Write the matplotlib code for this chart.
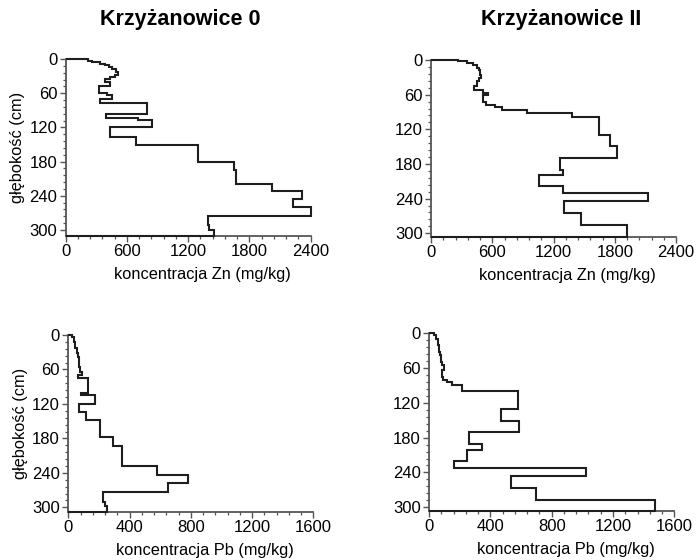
import matplotlib
matplotlib.use("Agg")
import matplotlib.pyplot as plt
import numpy as np
from matplotlib.ticker import MultipleLocator

plt.rcParams['font.family'] = ['Liberation Sans', 'DejaVu Sans']

# ---- data: layer top depths (cm), bottom depth, concentrations (mg/kg) ----
zn0_tops = [0, 3, 5.5, 8.5, 11, 14, 18, 22, 28, 32, 35, 40, 47, 59, 63, 71, 76.6,
            96.5, 104, 107, 120, 136, 151, 180, 195, 220, 231, 245.6, 260, 275.4, 291, 300]
zn0_bottom = 310
zn0_vals = [225, 258, 340, 390, 430, 460, 490, 514, 488, 439, 383, 440, 324, 406, 455, 340, 795,
            401, 707, 845, 437, 690, 1300, 1650, 1665, 2022, 2318, 2229, 2400, 1391, 1404, 1453]

zn2_tops = [0, 2, 4.6, 8.7, 13, 17, 26, 32, 35.8, 45, 52, 56.5, 60.6, 72, 78, 82, 86.5,
            91.2, 99.2, 130, 149, 170, 190, 199, 219, 229.6, 245, 265.4, 285.6]
zn2_bottom = 306
zn2_vals = [268, 349, 415, 454, 470, 480, 490, 473, 454, 421, 513, 555, 506, 540, 627, 692, 937,
            1378, 1649, 1753, 1819, 1264, 1290, 1061, 1290, 2129, 1303, 1469, 1923]

pb0_tops = [0, 3, 12, 23, 32, 38, 46, 55, 64, 70, 75.4, 101.5, 104.4, 120, 133.5, 148,
            178, 194, 228, 243.7, 258, 272.7, 290, 298]
pb0_bottom = 307.5
pb0_vals = [25, 38, 47, 56, 65, 70, 68, 78, 92, 61, 131, 83, 172, 70, 113, 207,
            294, 349, 577, 780, 650, 229, 237, 255]

pb2_tops = [0, 3, 9, 20, 32, 38, 49, 55, 64, 75, 81, 84, 89, 99, 130.5, 150.5,
            170.5, 191, 201, 221, 232, 246, 266, 287]
pb2_bottom = 306
pb2_vals = [32, 48, 58, 66, 74, 80, 88, 95, 88, 93, 115, 148, 218, 583, 468, 590,
            258, 347, 250, 164, 1025, 535, 695, 1476]

titles = ["Krzyżanowice 0", "Krzyżanowice II"]
ylabel = "głębokość (cm)"
xlabel_zn = "koncentracja Zn (mg/kg)"
xlabel_pb = "koncentracja Pb (mg/kg)"
zn_ticks = [0, 600, 1200, 1800, 2400]
pb_ticks = [0, 400, 800, 1200, 1600]
depth_ticks = [0, 60, 120, 180, 240, 300]

W, H = 699, 560
fig = plt.figure(figsize=(W / 100, H / 100), dpi=100)

def px_axes(left, right, top, bottom):
    return fig.add_axes([left / W, 1 - bottom / H, (right - left) / W, (bottom - top) / H])

spine_col = "#555555"
line_col = "#1e1e1e"

panels = [
    (px_axes(65.5, 310.7, 59, 235.7), zn0_tops, zn0_bottom, zn0_vals, zn_ticks, 120, xlabel_zn, True),
    (px_axes(431, 676, 60, 236.7), zn2_tops, zn2_bottom, zn2_vals, zn_ticks, 120, xlabel_zn, False),
    (px_axes(68.3, 313.3, 335, 511.7), pb0_tops, pb0_bottom, pb0_vals, pb_ticks, 80, xlabel_pb, True),
    (px_axes(429, 674.3, 333.3, 510.7), pb2_tops, pb2_bottom, pb2_vals, pb_ticks, 80, xlabel_pb, False),
]

for ax, tops, bottom, vals, xt, xminor, xl, show_ylabel in panels:
    edges = np.array(list(tops) + [bottom])
    ax.stairs(vals, edges, orientation='horizontal', baseline=0, color=line_col,
              lw=1.5, clip_on=False, zorder=3)
    ax.set_xlim(xt[0], xt[-1])
    ax.set_ylim(bottom, 0)
    ax.set_xticks(xt)
    ax.set_yticks(depth_ticks)
    ax.xaxis.set_minor_locator(MultipleLocator(xminor))
    ax.yaxis.set_minor_locator(MultipleLocator(12))
    for s in ["top", "right"]:
        ax.spines[s].set_visible(False)
    for s in ["left", "bottom"]:
        ax.spines[s].set_color(spine_col)
        ax.spines[s].set_linewidth(1.3)
    ax.tick_params(which='major', direction='out', length=4, width=1.0, color=spine_col,
                   labelsize=12, pad=2)
    ax.tick_params(which='minor', direction='out', length=2.5, width=0.9, color=spine_col)
    ax.set_xlabel(xl, fontsize=11.8)
    ax.xaxis.set_label_coords(0.557, -0.175)
    if show_ylabel:
        ax.set_ylabel(ylabel, fontsize=11.8, labelpad=3)

fig.text(180 / W, 1 - 19 / H, titles[0], ha='center', va='center', fontsize=15.5, fontweight='bold')
fig.text(561 / W, 1 - 19 / H, titles[1], ha='center', va='center', fontsize=15.5, fontweight='bold')

fig.savefig("out.png", dpi=100)
